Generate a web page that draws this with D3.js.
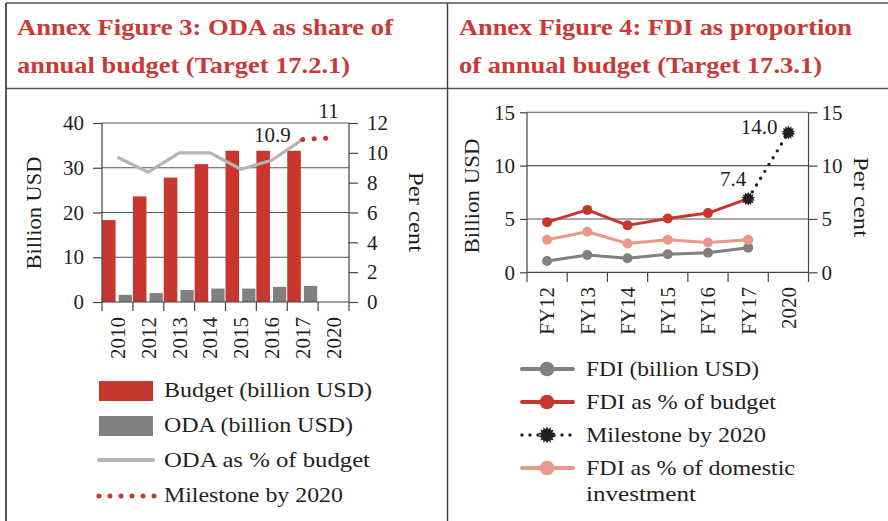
<!DOCTYPE html>
<html>
<head>
<meta charset="utf-8">
<script src="https://cdn.jsdelivr.net/npm/d3@7"></script>
<style>
  body { margin: 0; background: #fff; }
  svg { display: block; font-family: "Liberation Serif", serif; }
</style>
</head>
<body>
<svg id="chart" width="888" height="521"></svg>
<script>
// Figure 3 data (ODA)
const yearsL = ["2010", "2012", "2013", "2014", "2015", "2016", "2017", "2020"];
const budget = [18.3, 23.6, 27.8, 30.8, 33.8, 33.8, 33.8, null];
const oda = [1.6, 2.0, 2.7, 3.0, 3.0, 3.4, 3.6, null];
const odaPct = [9.7, 8.7, 10.0, 10.0, 8.9, 9.5, 10.9, null];
const milestoneL = [{ year: "2017", v: 10.9, label: "10.9" }, { year: "2020", v: 11, label: "11" }];

// Figure 4 data (FDI)
const yearsR = ["FY12", "FY13", "FY14", "FY15", "FY16", "FY17", "2020"];
const fdi = [1.06, 1.62, 1.31, 1.69, 1.84, 2.31];
const fdiBudget = [4.7, 5.85, 4.4, 5.05, 5.55, 6.9];
const fdiDomestic = [3.05, 3.8, 2.7, 3.05, 2.8, 3.05];
const milestoneR = [{ year: "FY17", v: 6.9, label: "7.4" }, { year: "2020", v: 13.1, label: "14.0" }];

const RED = "#c8372f", TITLE = "#c93a36", GREY = "#808080", LIGHT = "#b5b5b5", SALMON = "#e89a8a";
const INK = "#231f20";
const FONT = "Liberation Serif, serif";

const svg = d3.select("#chart");

// frame
svg.append("line").attr("x1", 6).attr("x2", 888).attr("y1", 3).attr("y2", 3)
    .attr("stroke", "#555").attr("stroke-width", 1.5);
svg.append("line").attr("x1", 6).attr("x2", 888).attr("y1", 88.5).attr("y2", 88.5)
    .attr("stroke", "#555").attr("stroke-width", 1.5);
svg.append("line").attr("x1", 6).attr("x2", 6).attr("y1", 3).attr("y2", 521)
    .attr("stroke", "#444").attr("stroke-width", 1.8);
svg.append("line").attr("x1", 447.5).attr("x2", 447.5).attr("y1", 3).attr("y2", 521)
    .attr("stroke", "#444").attr("stroke-width", 1.5);

// titles
const titles = [
    { x: 17, y: 35, t: "Annex Figure 3: ODA as share of", w: 376 },
    { x: 17, y: 73, t: "annual budget (Target 17.2.1)", w: 333 },
    { x: 459, y: 35, t: "Annex Figure 4: FDI as proportion", w: 393 },
    { x: 459, y: 73, t: "of annual budget (Target 17.3.1)", w: 363 }
];
svg.selectAll("text.title").data(titles).enter().append("text")
    .attr("class", "title")
    .attr("x", d => d.x).attr("y", d => d.y)
    .attr("textLength", d => d.w).attr("lengthAdjust", "spacingAndGlyphs")
    .attr("font-size", 23.5).attr("font-weight", "bold").attr("fill", TITLE)
    .text(d => d.t);

function styleAxis(g) {
    g.attr("font-family", FONT);
    g.select(".domain").remove();
    g.selectAll(".tick line").attr("stroke", "#444").attr("stroke-width", 1.2);
    g.selectAll(".tick text").attr("font-size", 21).attr("fill", INK);
}

function axisTitle(g, x, y, rot, text, len) {
    g.append("text").attr("transform", `translate(${x},${y}) rotate(${rot})`)
        .attr("dy", "0.35em").attr("text-anchor", "middle").attr("font-size", 21.5).attr("fill", INK)
        .attr("textLength", len).attr("lengthAdjust", "spacingAndGlyphs")
        .text(text);
}

// ---------- Figure 3 ----------
const xL = d3.scaleBand().domain(yearsL).range([102, 349]);
const yL = d3.scaleLinear().domain([0, 40]).range([302, 123]);
const yLr = d3.scaleLinear().domain([0, 12]).range([302, 123]);
const bw = xL.bandwidth();

const left = svg.append("g");

// gridlines
left.append("g").selectAll("line").data([10, 20, 30, 40]).enter().append("line")
    .attr("x1", 102).attr("x2", 349)
    .attr("y1", d => yL(d)).attr("y2", d => yL(d))
    .attr("stroke", "#555").attr("stroke-width", 1.1);

// bars
const rowsL = yearsL.map((y, i) => ({ year: y, budget: budget[i], oda: oda[i], pct: odaPct[i] }));
left.append("g").selectAll("rect").data(rowsL.filter(d => d.budget != null)).enter().append("rect")
    .attr("x", d => xL(d.year)).attr("width", bw * 0.44)
    .attr("y", d => yL(d.budget)).attr("height", d => yL(0) - yL(d.budget))
    .attr("fill", RED);
left.append("g").selectAll("rect").data(rowsL.filter(d => d.oda != null)).enter().append("rect")
    .attr("x", d => xL(d.year) + bw * 0.54).attr("width", bw * 0.43)
    .attr("y", d => yL(d.oda)).attr("height", d => yL(0) - yL(d.oda))
    .attr("fill", GREY);

// ODA as % of budget
left.append("path")
    .datum(rowsL.filter(d => d.pct != null))
    .attr("fill", "none").attr("stroke", LIGHT).attr("stroke-width", 3.2)
    .attr("stroke-linejoin", "round")
    .attr("d", d3.line().x(d => xL(d.year) + bw / 2).y(d => yLr(d.pct)));

// milestone
left.append("path")
    .datum(milestoneL)
    .attr("fill", "none").attr("stroke", RED).attr("stroke-width", 5)
    .attr("stroke-linecap", "round").attr("stroke-dasharray", "0,11.5")
    .attr("d", d3.line().x(d => xL(d.year) + bw / 2).y(d => yLr(d.v)));
left.append("text")
    .attr("x", xL("2017") + bw / 2 - 12).attr("y", yLr(10.9) + 3)
    .attr("text-anchor", "end").attr("font-size", 21).attr("fill", INK).text(milestoneL[0].label);
left.append("text")
    .attr("x", xL("2020") + bw / 2 - 5).attr("y", yLr(11) - 20)
    .attr("text-anchor", "middle").attr("font-size", 21).attr("fill", INK).text(milestoneL[1].label);

// axes
left.append("g").attr("transform", "translate(102,0)")
    .call(d3.axisLeft(yL).tickValues([0, 10, 20, 30, 40]).tickSize(9).tickPadding(9))
    .call(styleAxis);
left.append("g").attr("transform", "translate(349,0)")
    .call(d3.axisRight(yLr).tickValues([0, 2, 4, 6, 8, 10, 12]).tickSize(9).tickPadding(9))
    .call(styleAxis);
left.append("line").attr("x1", 102).attr("x2", 102).attr("y1", 123).attr("y2", 302).attr("stroke", "#444").attr("stroke-width", 1.2);
left.append("line").attr("x1", 349).attr("x2", 349).attr("y1", 123).attr("y2", 302).attr("stroke", "#444").attr("stroke-width", 1.2);
left.append("line").attr("x1", 102).attr("x2", 349).attr("y1", 302).attr("y2", 302).attr("stroke", "#444").attr("stroke-width", 1.2);
left.append("g").selectAll("line").data(yearsL.map(d => xL(d)).concat([xL.range()[1]])).enter().append("line")
    .attr("x1", d => d).attr("x2", d => d).attr("y1", 302).attr("y2", 311)
    .attr("stroke", "#444").attr("stroke-width", 1.2);
left.append("g").selectAll("text").data(yearsL).enter().append("text")
    .attr("transform", d => `translate(${xL(d) + bw / 2},317) rotate(-90)`)
    .attr("dy", "0.35em").attr("text-anchor", "end")
    .attr("font-size", 21).attr("fill", INK).text(d => d);

axisTitle(left, 33, 213, -90, "Billion USD", 113);
axisTitle(left, 417, 212, 90, "Per cent", 80);

// legend
const legL = left.append("g");
legL.append("rect").attr("x", 99).attr("y", 381).attr("width", 54).attr("height", 20).attr("fill", RED);
legL.append("rect").attr("x", 99).attr("y", 416).attr("width", 54).attr("height", 20).attr("fill", GREY);
legL.append("line").attr("x1", 99).attr("x2", 153).attr("y1", 460).attr("y2", 460)
    .attr("stroke", LIGHT).attr("stroke-width", 4).attr("stroke-linecap", "round");
legL.append("line").attr("x1", 99).attr("x2", 156).attr("y1", 496).attr("y2", 496)
    .attr("stroke", RED).attr("stroke-width", 5).attr("stroke-linecap", "round").attr("stroke-dasharray", "0,11");
const legLabelsL = [
    { t: "Budget (billion USD)", w: 208 },
    { t: "ODA (billion USD)", w: 189 },
    { t: "ODA as % of budget", w: 206 },
    { t: "Milestone by 2020", w: 179 }
];
legL.selectAll("text").data(legLabelsL).enter().append("text")
    .attr("x", 164).attr("y", (d, i) => 397 + i * 35)
    .attr("textLength", d => d.w).attr("lengthAdjust", "spacingAndGlyphs")
    .attr("font-size", 22).attr("fill", INK).text(d => d.t);

// ---------- Figure 4 ----------
const xR = d3.scaleBand().domain(yearsR).range([527, 808.5]);
const yR = d3.scaleLinear().domain([0, 15]).range([272.3, 112.3]);
const bwR = xR.bandwidth();
const cx = d => xR(d) + bwR / 2;

const right = svg.append("g");
right.append("g").selectAll("line").data([5, 10, 15]).enter().append("line")
    .attr("x1", 527).attr("x2", 808.5)
    .attr("y1", d => yR(d)).attr("y2", d => yR(d))
    .attr("stroke", "#555").attr("stroke-width", 1.1);

right.append("g").attr("transform", "translate(527,0)")
    .call(d3.axisLeft(yR).tickValues([0, 5, 10, 15]).tickSize(7).tickPadding(5))
    .call(styleAxis);
right.append("g").attr("transform", "translate(808.5,0)")
    .call(d3.axisRight(yR).tickValues([0, 5, 10, 15]).tickSize(9).tickPadding(4))
    .call(styleAxis);
right.append("line").attr("x1", 527).attr("x2", 527).attr("y1", 112.3).attr("y2", 272.3).attr("stroke", "#444").attr("stroke-width", 1.2);
right.append("line").attr("x1", 808.5).attr("x2", 808.5).attr("y1", 112.3).attr("y2", 272.3).attr("stroke", "#444").attr("stroke-width", 1.2);
right.append("line").attr("x1", 527).attr("x2", 808.5).attr("y1", 272.3).attr("y2", 272.3).attr("stroke", "#444").attr("stroke-width", 1.2);
right.append("g").selectAll("line").data(yearsR.map(d => xR(d)).concat([xR.range()[1]])).enter().append("line")
    .attr("x1", d => d).attr("x2", d => d).attr("y1", 272.3).attr("y2", 282)
    .attr("stroke", "#444").attr("stroke-width", 1.2);
right.append("g").selectAll("text").data(yearsR).enter().append("text")
    .attr("transform", d => `translate(${cx(d)},287) rotate(-90)`)
    .attr("dy", "0.35em").attr("text-anchor", "end")
    .attr("font-size", 21).attr("fill", INK).text(d => d);

axisTitle(right, 471, 196, -90, "Billion USD", 115);
axisTitle(right, 862, 197, 90, "Per cent", 80);

// series lines with markers
const series = [
    { name: "FDI (billion USD)", values: fdi, color: GREY },
    { name: "FDI as % of budget", values: fdiBudget, color: RED },
    { name: "FDI as % of domestic investment", values: fdiDomestic, color: SALMON }
];
const lineR = d3.line().x(d => cx(d.year)).y(d => yR(d.v));
series.forEach(s => {
    const pts = s.values.map((v, i) => ({ year: yearsR[i], v: v }));
    right.append("path").datum(pts)
        .attr("fill", "none").attr("stroke", s.color).attr("stroke-width", 3)
        .attr("stroke-linejoin", "round").attr("d", lineR);
    right.append("g").selectAll("circle").data(s.name === "FDI as % of budget" ? pts.slice(0, -1) : pts)
        .enter().append("circle")
        .attr("cx", d => cx(d.year)).attr("cy", d => yR(d.v)).attr("r", 5)
        .attr("fill", s.color);
});

// milestone dotted line with starburst markers
function starburst(r1, r2, n) {
    const pts = d3.range(n * 2).map(i => [i * Math.PI / n, i % 2 ? r2 : r1]);
    return d3.lineRadial().curve(d3.curveLinearClosed)(pts);
}
right.append("path").datum(milestoneR)
    .attr("fill", "none").attr("stroke", INK).attr("stroke-width", 3.4)
    .attr("stroke-linecap", "round").attr("stroke-dasharray", "0,8")
    .attr("d", lineR);
right.append("g").selectAll("path").data(milestoneR).enter().append("path")
    .attr("transform", d => `translate(${cx(d.year)},${yR(d.v)})`)
    .attr("d", starburst(7, 4.8, 14)).attr("fill", INK);
right.append("text").attr("x", cx("FY17") - 2).attr("y", yR(milestoneR[0].v) - 13)
    .attr("text-anchor", "end").attr("font-size", 21).attr("fill", INK).text(milestoneR[0].label);
right.append("text").attr("x", cx("2020") - 11).attr("y", yR(milestoneR[1].v) + 1)
    .attr("text-anchor", "end").attr("font-size", 21).attr("fill", INK).text(milestoneR[1].label);

// legend
const legR = right.append("g");
const legRows = [
    { label: "FDI (billion USD)", w: 173, color: GREY, y: 369 },
    { label: "FDI as % of budget", w: 190, color: RED, y: 402 },
    { label: "Milestone by 2020", w: 180, color: INK, y: 435, star: true },
    { label: "FDI as % of domestic", w: 209, color: SALMON, y: 468 }
];
legRows.forEach(r => {
    if (r.star) {
        legR.append("line").attr("x1", 522).attr("x2", 574).attr("y1", r.y).attr("y2", r.y)
            .attr("stroke", INK).attr("stroke-width", 3.4).attr("stroke-linecap", "round")
            .attr("stroke-dasharray", "0,8");
        legR.append("path").attr("transform", `translate(547,${r.y})`)
            .attr("d", starburst(8.5, 6, 14)).attr("fill", INK);
    } else {
        legR.append("line").attr("x1", 522).attr("x2", 573).attr("y1", r.y).attr("y2", r.y)
            .attr("stroke", r.color).attr("stroke-width", 4).attr("stroke-linecap", "round");
        legR.append("circle").attr("cx", 547).attr("cy", r.y).attr("r", 7.3).attr("fill", r.color);
    }
    legR.append("text").attr("x", 586).attr("y", r.y + 7)
        .attr("textLength", r.w).attr("lengthAdjust", "spacingAndGlyphs")
        .attr("font-size", 22).attr("fill", INK).text(r.label);
});
legR.append("text").attr("x", 586).attr("y", 501)
    .attr("textLength", 110).attr("lengthAdjust", "spacingAndGlyphs")
    .attr("font-size", 22).attr("fill", INK).text("investment");
</script>
</body>
</html>
